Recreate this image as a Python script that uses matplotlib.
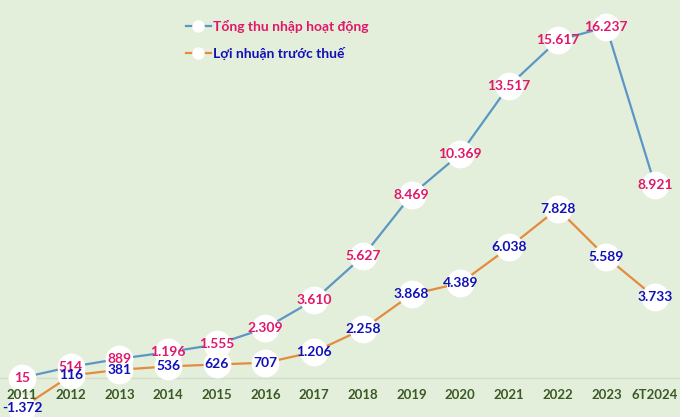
import matplotlib.pyplot as plt
from matplotlib.lines import Line2D

years = ["2011", "2012", "2013", "2014", "2015", "2016", "2017",
         "2018", "2019", "2020", "2021", "2022", "2023", "6T2024"]
total_income = [15, 514, 889, 1196, 1555, 2309, 3610,
                5627, 8469, 10369, 13517, 15617, 16237, 8921]
pretax_profit = [-1372, 116, 381, 536, 626, 707, 1206,
                 2258, 3868, 4389, 6038, 7828, 5589, 3733]

BG = "#e3efda"
BLUE_LINE = "#5b97c4"
ORANGE_LINE = "#e38b3e"
PINK = "#e0186a"
NAVY = "#1010b8"
GREEN = "#3a5a26"
FONT = "Lato"


def fmt(v: int) -> str:
    # Vietnamese thousands separator is a dot
    return f"{v:,}".replace(",", ".")


fig = plt.figure(figsize=(6.8, 4.17), dpi=100, facecolor=BG)
ax = fig.add_axes([0, 0, 1, 1])
ax.set_facecolor(BG)
for side in ax.spines.values():
    side.set_visible(False)
ax.set_xticks([])
ax.set_yticks([])

x = list(range(len(years)))
ax.set_xlim(-0.452, 13.513)
ax.set_ylim(-1804, 17486)

ax.axhline(0, color="#d3ddcc", lw=1, zorder=1)

marker_kw = dict(marker="o", markersize=19, markerfacecolor="white",
                 markeredgecolor="white", lw=1.6, zorder=3)
ax.plot(x, total_income, color=BLUE_LINE, **marker_kw)
ax.plot(x, pretax_profit, color=ORANGE_LINE, **marker_kw)

for xi, v in zip(x, total_income):
    ax.text(xi, v, fmt(v), ha="center", va="center", color=PINK,
            fontsize=10, fontweight="bold", family=FONT, zorder=4)
for xi, v in zip(x, pretax_profit):
    ax.text(xi, v, fmt(v), ha="center", va="center", color=NAVY,
            fontsize=10, fontweight="bold", family=FONT, zorder=4)

# category labels sit just under the zero line, drawn over the markers
for xi, label in zip(x, years):
    ax.text(xi, -790, label, ha="center", va="center", color=GREEN,
            fontsize=9.5, fontweight="bold", family=FONT, zorder=5)

handles = [
    Line2D([], [], color=BLUE_LINE, marker="o", markersize=8,
           markerfacecolor="white", markeredgecolor="white", lw=1.6),
    Line2D([], [], color=ORANGE_LINE, marker="o", markersize=8,
           markerfacecolor="white", markeredgecolor="white", lw=1.6),
]
leg = ax.legend(handles, ["Tổng thu nhập hoạt động", "Lợi nhuận trước thuế"],
                loc="upper left", bbox_to_anchor=(0.255, 0.982), frameon=False,
                handlelength=1.8, handletextpad=0.15, labelspacing=1.0,
                prop={"family": FONT, "weight": "bold", "size": 10})
leg.get_texts()[0].set_color(PINK)
leg.get_texts()[1].set_color(NAVY)

fig.savefig("out.png", dpi=100, facecolor=BG)
